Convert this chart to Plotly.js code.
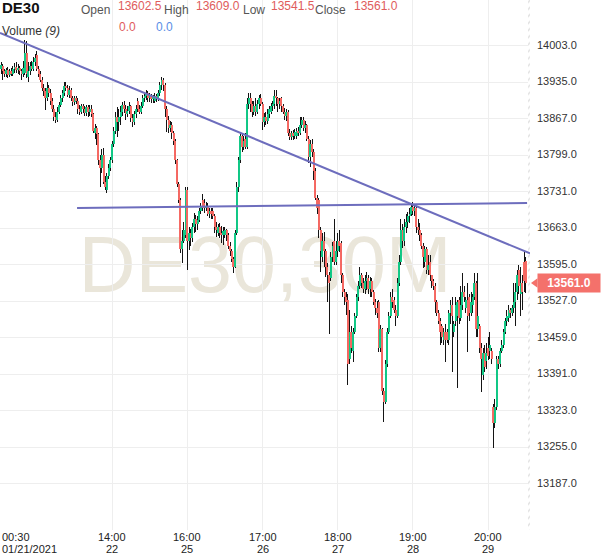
<!DOCTYPE html>
<html><head><meta charset="utf-8">
<script src="https://cdn.plot.ly/plotly-3.0.1.min.js"></script>
<style>html,body{margin:0;padding:0;background:#fff;}#chart{width:601px;height:558px;}</style>
</head><body><div id="chart"></div>
<script>
// ---- data (30-minute candles, index 0 = 01/21/2021 00:30) ----
const openP = [
13960,13965,13955,13950,13958,13948,13955,13950,13960,13964,
13958,13962,13955,13950,13952,13990,13945,13955,13965,13960,
13972,13985,13960,13950,13940,13925,13918,13905,13925,13915,
13900,13885,13870,13865,13880,13893,13905,13915,13928,13925,
13912,13920,13905,13898,13905,13900,13885,13880,13890,13885,
13878,13888,13880,13885,13875,13840,13850,13838,13790,13775,
13800,13750,13735,13760,13775,13790,13820,13845,13870,13860,
13870,13880,13893,13885,13875,13882,13890,13868,13860,13875,
13900,13885,13880,13890,13905,13910,13915,13905,13910,13903,
13900,13910,13905,13915,13930,13940,13930,13885,13865,13850,
13855,13840,13825,13790,13745,13715,13625,13640,13650,13735,
13640,13655,13645,13665,13680,13670,13678,13695,13715,13710,
13700,13705,13690,13695,13695,13685,13665,13655,13665,13655,
13650,13650,13660,13650,13630,13620,13605,13590,13655,13740,
13790,13835,13815,13830,13815,13895,13905,13895,13880,13890,
13880,13895,13905,13895,13860,13870,13862,13875,13880,13890,
13895,13910,13905,13895,13905,13890,13880,13872,13880,13840,
13832,13840,13835,13835,13845,13840,13855,13865,13850,13855,
13830,13795,13820,13805,13770,13720,13716,13660,13610,13640,
13620,13590,13575,13570,13610,13640,13600,13620,13640,13635,
13575,13545,13535,13530,13420,13470,13435,13470,13500,13535,
13555,13575,13560,13550,13565,13570,13550,13565,13545,13525,
13515,13525,13440,13475,13360,13340,13410,13470,13500,13535,
13530,13510,13500,13560,13600,13660,13640,13665,13675,13685,
13690,13703,13695,13700,13665,13660,13650,13630,13600,13625,
13585,13600,13575,13565,13555,13525,13505,13490,13480,13455,
13470,13470,13455,13505,13520,13470,13490,13500,13530,13495,
13520,13545,13515,13530,13535,13505,13520,13535,13560,13475,
13480,13440,13390,13430,13415,13440,13435,13435,13330,13300,
13330,13420,13410,13435,13445,13470,13490,13495,13510,13505,
13515,13525,13545,13585,13540,13560,13600,13602.5];
const highP = [
13972,13968,13960,13962,13963,13960,13962,13965,13970,13972,
13968,13966,13960,13975,14013,14012,13973,13972,13975,13982,
13988,13993,13965,13955,13945,13932,13925,13935,13930,13922,
13905,13893,13880,13888,13898,13912,13920,13935,13935,13930,
13928,13925,13910,13910,13910,13905,13892,13895,13895,13890,
13893,13893,13892,13893,13878,13858,13853,13840,13800,13810,
13812,13760,13765,13782,13795,13825,13852,13880,13889,13885,
13890,13898,13900,13892,13890,13898,13893,13875,13882,13892,
13906,13893,13898,13911,13915,13920,13918,13915,13913,13912,
13915,13913,13920,13935,13945,13943,13933,13890,13872,13862,
13860,13845,13830,13792,13750,13720,13660,13675,13740,13740,
13665,13662,13672,13692,13688,13685,13700,13710,13727,13718,
13712,13710,13700,13700,13700,13690,13675,13670,13672,13668,
13665,13665,13662,13655,13638,13625,13610,13660,13750,13796,
13840,13840,13835,13840,13905,13915,13915,13900,13900,13905,
13902,13911,13913,13898,13878,13880,13885,13890,13897,13900,
13920,13920,13908,13905,13908,13895,13887,13885,13883,13848,
13845,13846,13848,13850,13852,13870,13870,13870,13862,13858,
13835,13827,13830,13810,13775,13725,13720,13665,13654,13656,
13625,13598,13582,13618,13637,13680,13640,13655,13660,13640,
13580,13550,13545,13540,13510,13480,13478,13505,13540,13565,
13590,13580,13570,13575,13582,13575,13572,13570,13548,13532,
13528,13530,13482,13478,13365,13418,13477,13507,13545,13550,
13535,13520,13570,13613,13680,13670,13680,13690,13693,13700,
13710,13712,13705,13705,13680,13672,13655,13635,13630,13628,
13613,13613,13575,13568,13560,13530,13510,13495,13485,13478,
13485,13475,13510,13530,13535,13490,13535,13530,13535,13555,
13580,13555,13535,13560,13540,13545,13540,13580,13565,13580,
13485,13450,13440,13445,13450,13460,13470,13440,13335,13345,
13425,13425,13440,13455,13475,13495,13510,13520,13515,13520,
13560,13560,13585,13595,13590,13575,13619,13609];
const lowP = [
13950,13940,13945,13944,13942,13944,13946,13946,13953,13952,
13950,13948,13940,13944,13948,13942,13936,13948,13955,13956,
13965,13955,13944,13935,13918,13910,13883,13900,13908,13893,
13880,13863,13859,13860,13875,13888,13898,13910,13918,13908,
13905,13900,13890,13893,13895,13875,13874,13876,13878,13872,
13872,13870,13872,13870,13840,13830,13818,13780,13740,13765,
13745,13735,13728,13755,13770,13785,13815,13838,13833,13845,
13855,13872,13878,13865,13870,13876,13860,13852,13855,13868,
13880,13875,13876,13886,13898,13902,13898,13898,13897,13896,
13896,13898,13900,13910,13920,13918,13870,13842,13840,13842,
13830,13818,13782,13740,13710,13617,13598,13635,13645,13585,
13622,13630,13638,13655,13656,13660,13675,13690,13695,13692,
13695,13685,13682,13680,13680,13655,13647,13648,13645,13635,
13632,13645,13640,13625,13612,13600,13579,13588,13650,13730,
13785,13805,13808,13810,13810,13885,13880,13870,13873,13872,
13875,13885,13890,13846,13852,13855,13858,13868,13876,13882,
13885,13890,13880,13885,13880,13875,13865,13862,13835,13827,
13828,13828,13830,13830,13835,13836,13850,13845,13840,13825,
13785,13777,13795,13753,13715,13690,13645,13582,13600,13590,
13572,13525,13465,13565,13600,13594,13595,13610,13618,13560,
13535,13520,13501,13371,13410,13430,13414,13465,13495,13528,
13550,13552,13542,13540,13548,13540,13535,13535,13520,13501,
13495,13432,13432,13352,13302,13335,13405,13465,13495,13515,
13505,13480,13495,13555,13594,13626,13630,13655,13663,13672,
13685,13688,13685,13655,13650,13640,13625,13589,13590,13578,
13576,13565,13552,13548,13505,13500,13485,13445,13450,13445,
13414,13450,13445,13485,13396,13460,13480,13365,13485,13490,
13510,13525,13505,13432,13490,13500,13505,13530,13460,13460,
13430,13358,13380,13395,13400,13418,13420,13410,13253,13290,
13325,13400,13405,13430,13440,13465,13480,13488,13495,13500,
13505,13480,13530,13540,13500,13510,13545,13541.5];
const closeP = [
13967,13955,13950,13958,13948,13955,13950,13960,13964,13958,
13962,13955,13950,13962,13990,13950,13955,13965,13960,13972,
13980,13960,13950,13940,13925,13918,13905,13925,13915,13900,
13885,13870,13865,13880,13893,13905,13915,13928,13925,13912,
13920,13905,13898,13905,13900,13885,13880,13890,13885,13878,
13888,13880,13885,13875,13845,13850,13838,13790,13775,13800,
13750,13740,13760,13775,13790,13820,13845,13870,13860,13870,
13880,13893,13885,13875,13882,13890,13868,13860,13875,13885,
13885,13880,13890,13905,13910,13915,13905,13910,13903,13908,
13910,13905,13915,13930,13940,13930,13885,13865,13850,13855,
13840,13825,13790,13745,13715,13625,13640,13660,13735,13640,
13655,13645,13665,13680,13670,13678,13695,13705,13700,13700,
13705,13690,13695,13690,13685,13665,13660,13665,13655,13650,
13658,13660,13650,13630,13620,13605,13590,13655,13740,13790,
13835,13815,13825,13815,13895,13905,13895,13880,13890,13880,
13895,13905,13895,13860,13870,13862,13875,13885,13890,13895,
13910,13905,13895,13900,13890,13880,13872,13880,13840,13833,
13840,13835,13843,13845,13840,13855,13865,13850,13855,13830,
13795,13820,13805,13770,13720,13700,13660,13620,13640,13620,
13590,13575,13560,13610,13630,13600,13620,13640,13630,13575,
13545,13535,13525,13410,13470,13440,13470,13500,13535,13555,
13575,13560,13550,13565,13570,13550,13565,13545,13525,13515,
13505,13440,13475,13360,13340,13410,13470,13500,13535,13525,
13510,13500,13560,13600,13660,13640,13665,13675,13685,13690,
13703,13695,13700,13665,13660,13650,13630,13610,13625,13585,
13595,13575,13565,13555,13525,13505,13490,13470,13460,13470,
13455,13455,13505,13520,13500,13485,13520,13525,13495,13520,
13545,13535,13530,13500,13505,13525,13535,13560,13475,13500,
13440,13420,13430,13405,13430,13425,13445,13420,13300,13330,
13420,13410,13435,13445,13470,13490,13500,13510,13505,13515,
13525,13545,13575,13555,13560,13545,13565,13561];

const yTicks = [14003,13935,13867,13799,13731,13663,13595,13527,13459,13391,13323,13255,13187];
const xTickIdx = [0,65,109,153,197,241,285];
const xTickTime = ['00:30','14:00','16:00','17:00','18:00','19:00','20:00'];
const xTickDate = ['01/21/2021','22','25','26','27','28','29'];
const trend1X = [-0.585, 309.5], trend1Y = [14026.7, 13616];
const trend2X = [44.5, 307.8],   trend2Y = [13700.6, 13710];
const symbol = 'DE30', period = '30M';

// ---- styling ----
const GREEN = 'rgba(16,200,134,0.99)', RED = 'rgba(246,104,98,0.99)', WICK = 'rgba(17,17,17,0.99)';
const PW = 530, PH = 530;
const YR = [13100.8, 14088.1], XR = [-0.585, 309.5];
const px = v => v / PW, py = v => 1 - v / PH;
const idx = closeP.map((_, i) => i);
const last = closeP.length - 1;
const fmt = v => v.toFixed(1);

const wick = {type:'bar', x: idx, base: lowP, y: highP.map((h,i)=>h-lowP[i]),
  width: 0.585, marker:{color: WICK}, hoverinfo:'skip', showlegend:false};
const body = {type:'bar', x: idx, base: openP.map((o,i)=>Math.min(o,closeP[i])),
  y: openP.map((o,i)=>Math.max(Math.abs(closeP[i]-o), 1.5)),
  width: 1.17, marker:{color: openP.map((o,i)=> closeP[i] >= o ? GREEN : RED)}, hoverinfo:'skip', showlegend:false};
// faint hatched strip at the right edge of the price pane
const hatch = {type:'bar', x:[XR[1]-0.55], base:[YR[0]], y:[YR[1]-YR[0]], width:[1.1],
  marker:{color:'rgba(255,255,255,0.99)', pattern:{shape:'/', fgcolor:'#dcdcdc', bgcolor:'#ffffff', size:5, solidity:0.25}},
  hoverinfo:'skip', showlegend:false};
const tl1 = {type:'scatter', mode:'lines', x: trend1X, y: trend1Y, line:{color:'#6d6dbd', width:2}, hoverinfo:'skip', showlegend:false};
const tl2 = {type:'scatter', mode:'lines', x: trend2X, y: trend2Y, line:{color:'#6d6dbd', width:2}, hoverinfo:'skip', showlegend:false};

const ann = [];
function txt(text, x, y, size, color, extra) {
  ann.push(Object.assign({xref:'paper', yref:'paper', x: px(x), y: py(y), xanchor:'left', yanchor:'middle',
    text, showarrow:false, font:{size, color, family:'Liberation Sans, Arial, sans-serif'}}, extra||{}));
}
txt('<b>'+symbol+'</b>', 0, 8, 15, '#111');
txt('Open', 79, 9.5, 12, '#555'); txt(fmt(openP[last]), 116, 6, 12, '#e05c5c');
txt('High', 162, 9.5, 12, '#555'); txt(fmt(highP[last]), 194, 6, 12, '#e05c5c');
txt('Low', 241, 9.5, 12, '#555'); txt(fmt(lowP[last]), 269, 6, 12, '#e05c5c');
txt('Close', 313, 9.5, 12, '#555'); txt(fmt(closeP[last]), 352, 6, 12, '#e05c5c');
txt('Volume <i>(9)</i>', 0, 31, 12, '#333');
txt('0.0', 117, 27, 12, '#e05c5c'); txt('0.0', 154, 27, 12, '#5b8ee6');
// x labels
xTickIdx.forEach((t, k) => {
  const first = k === 0;
  ann.push({xref:'x', yref:'paper', x: first ? XR[0] : t, y: py(537), xanchor: first ? 'left':'center', yanchor:'middle',
    text: xTickTime[k], showarrow:false, font:{size:11, color:'#222', family:'Liberation Sans, Arial, sans-serif'}});
  ann.push({xref:'x', yref:'paper', x: first ? XR[0] : t, y: py(549), xanchor: first ? 'left':'center', yanchor:'middle',
    text: xTickDate[k], showarrow:false, font:{size:11, color:'#222', family:'Liberation Sans, Arial, sans-serif'}});
});
// last price tag
ann.push({xref:'paper', yref:'y', x: 537/PW, y: closeP[last], xanchor:'left', yanchor:'middle',
  text:'<b>'+fmt(closeP[last])+'</b>', showarrow:false, bgcolor:'#f4716b', borderpad:3, width:56, height:12,
  font:{size:12, color:'#fff', family:'Liberation Sans, Arial, sans-serif'}});

const c = closeP[last];
const shapes = [
  {type:'rect', xref:'paper', yref:'paper', layer:'below', x0:0.05, x1:0.95, y0:py(300), y1:py(215),
   line:{width:0}, fillcolor:'rgba(0,0,0,0)',
   label:{text: symbol+','+period, textposition:'middle center',
          font:{size:79, color:'#eae6da', family:'Liberation Sans, Arial, sans-serif'}}},
  {type:'path', xref:'paper', yref:'y', layer:'above',
   path:`M ${531/PW},${c} L ${537.5/PW},${c+9} L ${537.5/PW},${c-9} Z`,
   fillcolor:'#f4716b', line:{width:0}}
];

const layout = {
  width:601, height:558, margin:{l:0, r:71, t:0, b:28},
  paper_bgcolor:'#fff', plot_bgcolor:'#fff', barmode:'overlay', bargap:0,
  showlegend:false, hovermode:false,
  xaxis:{range: XR, tickvals: xTickIdx.slice(1), showticklabels:false, ticks:'',
    showgrid:true, gridcolor:'#eeeeee', gridwidth:1, zeroline:false, showline:false, fixedrange:true},
  yaxis:{range: YR, side:'right', tickvals: yTicks, tickformat:'.1f', ticks:'',
    ticklabelstandoff:6, ticklabelshift:-1,
    tickfont:{size:11, color:'#333', family:'Liberation Sans, Arial, sans-serif'},
    showgrid:true, gridcolor:'#eeeeee', gridwidth:1, zeroline:false, showline:false, fixedrange:true},
  annotations: ann, shapes: shapes
};
Plotly.newPlot('chart', [hatch, wick, body, tl1, tl2], layout, {displayModeBar:false, staticPlot:true});
</script></body></html>
